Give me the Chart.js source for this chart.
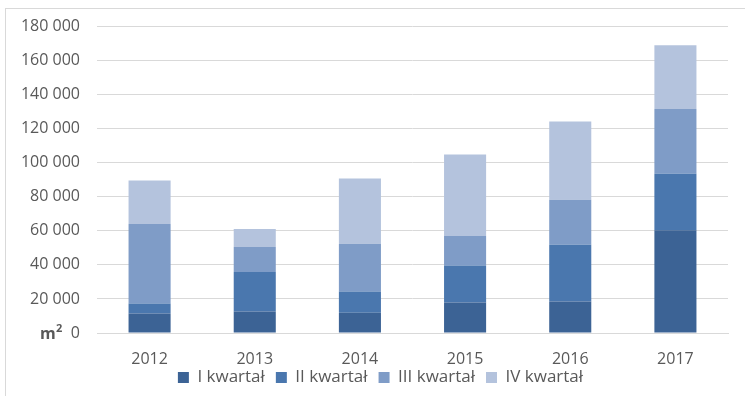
<!DOCTYPE html>
<html lang="pl">
<head>
    <meta charset="UTF-8">
    <title>Powierzchnia m2 - kwartały</title>
    <script src="https://cdn.jsdelivr.net/npm/chart.js"></script>
    <style>
        body {
            margin: 0;
            background: #ffffff;
        }
        #wrap {
            position: relative;
            width: 745px;
            height: 396px;
        }
        #frame {
            position: absolute;
            left: 5px;
            top: 8px;
            right: 0;
            bottom: 0;
            border-top: 1px solid #d9d9d9;
            border-left: 1px solid #d9d9d9;
            pointer-events: none;
        }
    </style>
</head>
<body>
    <div id="wrap">
        <canvas id="chart" width="745" height="396"></canvas>
        <div id="frame"></div>
    </div>

    <script>
        // values (m2)
        const years = ['2012', '2013', '2014', '2015', '2016', '2017'];
        const kwartalI = [11500, 12650, 11900, 17900, 18500, 60300];
        const kwartalII = [5800, 23250, 12500, 21700, 33400, 33200];
        const kwartalIII = [46700, 14650, 28100, 17400, 26350, 38050];
        const kwartalIV = [25600, 10550, 38300, 47850, 45950, 37500];
        const yTicks = [0, 20000, 40000, 60000, 80000, 100000, 120000, 140000, 160000, 180000];

        const fontFamily = '"Open Sans", "Noto Sans", sans-serif';
        const textColor = '#595959';
        const fontSize = 16;

        // "m2" label next to the zero tick
        const unitLabel = {
            id: 'unitLabel',
            afterLayout(chart) {
                // labels sit outside their boxes here; don't let them get clipped
                const x = chart.scales.x;
                x.bottom = x.top + 45;
                chart.scales.y.left = 0;
            },
            afterDraw(chart) {
                const ctx = chart.ctx;
                const y = chart.scales.y.getPixelForValue(0);
                ctx.save();
                ctx.fillStyle = textColor;
                ctx.textBaseline = 'middle';
                ctx.font = 'bold 16px ' + fontFamily;
                ctx.fillText('m', 40, y + 1);
                ctx.font = 'bold 11px ' + fontFamily;
                ctx.fillText('2', 56, y - 4);
                ctx.restore();
            }
        };

        const ctx = document.getElementById('chart').getContext('2d');
        new Chart(ctx, {
            type: 'bar',
            data: {
                labels: years,
                datasets: [
                    { label: 'I kwartał', data: kwartalI, backgroundColor: '#3c6395' },
                    { label: 'II kwartał', data: kwartalII, backgroundColor: '#4a77ae' },
                    { label: 'III kwartał', data: kwartalIII, backgroundColor: '#7f9cc7' },
                    { label: 'IV kwartał', data: kwartalIV, backgroundColor: '#b4c3dd' }
                ]
            },
            options: {
                responsive: false,
                animation: false,
                categoryPercentage: 0.4,
                barPercentage: 1.0,
                layout: {
                    padding: { top: 17, right: 17, left: 33, bottom: 0 }
                },
                scales: {
                    x: {
                        stacked: true,
                        afterFit(scale) { scale.height = 25; },
                        grid: { display: false, drawTicks: false },
                        border: { color: '#d9d9d9' },
                        ticks: {
                            color: textColor,
                            font: { family: fontFamily, size: fontSize },
                            padding: 17
                        }
                    },
                    y: {
                        stacked: true,
                        min: 0,
                        max: 180000,
                        afterFit(scale) { scale.width = 64; },
                        afterBuildTicks(scale) {
                            scale.ticks = yTicks.map(v => ({ value: v }));
                        },
                        grid: { color: '#d9d9d9', drawTicks: false },
                        border: { display: false },
                        ticks: {
                            color: textColor,
                            font: { family: fontFamily, size: fontSize },
                            padding: 17,
                            callback: v => v.toLocaleString('pl-PL').replace(/\s/g, ' ')
                        }
                    }
                },
                plugins: {
                    legend: {
                        position: 'bottom',
                        maxHeight: 39,
                        labels: {
                            color: textColor,
                            font: { family: fontFamily, size: 17 },
                            boxWidth: 11,
                            boxHeight: 11,
                            padding: 11
                        }
                    },
                    tooltip: { enabled: false }
                }
            },
            plugins: [unitLabel]
        });
    </script>
</body>
</html>
